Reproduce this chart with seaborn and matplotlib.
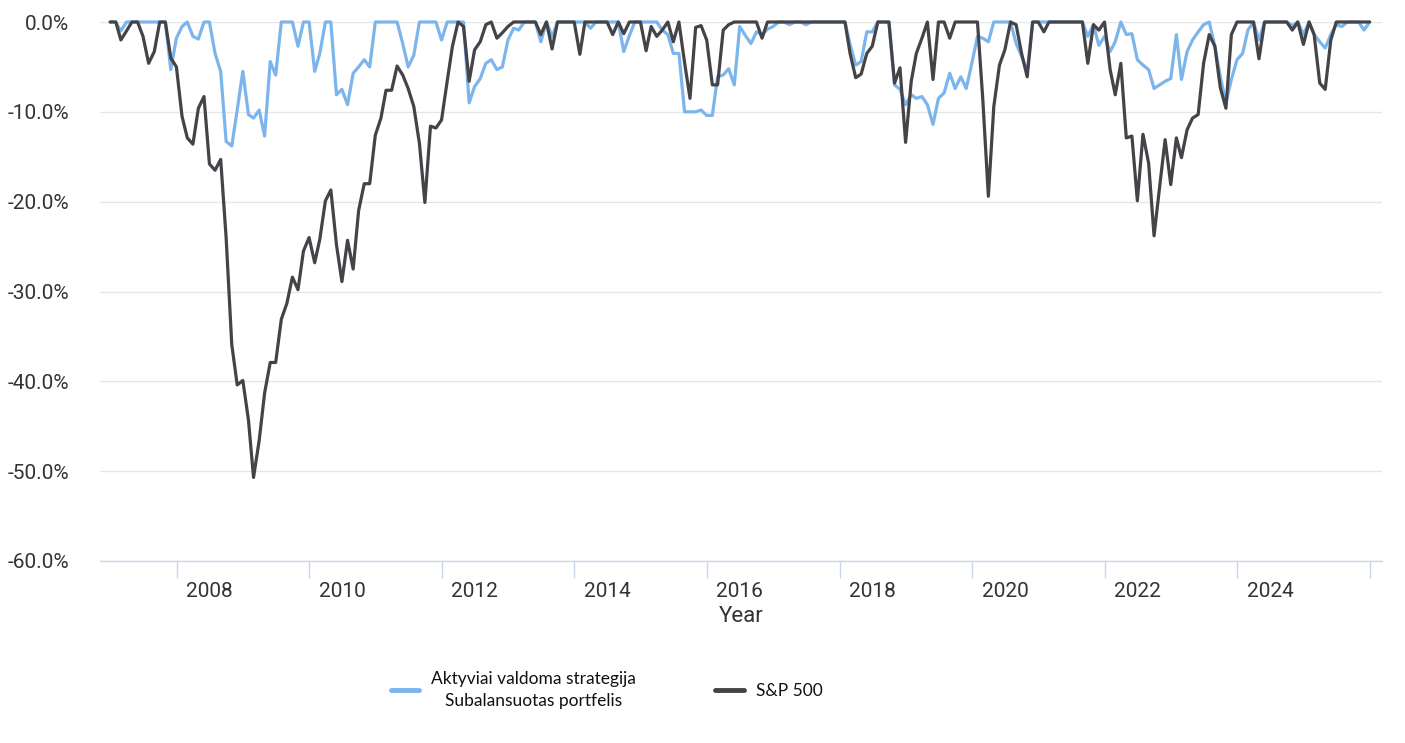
import numpy as np
import pandas as pd
import matplotlib
matplotlib.use("Agg")
import matplotlib.pyplot as plt
import seaborn as sns
import matplotlib.dates as mdates
from matplotlib.lines import Line2D

# ---- data (drawdown, %) monthly, month-end Dec 2006 .. Dec 2025 ----
sp500 = [
    0, 0, -2.0, -1.0, 0, 0, -1.6, -4.6, -3.3, 0,
    0, -4.0, -5.0, -10.5, -12.9, -13.6, -9.6, -8.3, -15.8, -16.5,
    -15.3, -24.0, -35.9, -40.4, -39.9, -44.3, -50.7, -46.6, -41.3, -37.9,
    -37.9, -33.1, -31.3, -28.4, -29.8, -25.5, -24.0, -26.8, -24.2, -19.9,
    -18.7, -24.8, -28.9, -24.3, -27.5, -21.0, -18.0, -18.0, -12.6, -10.7,
    -7.6, -7.6, -4.9, -5.9, -7.4, -9.4, -13.5, -20.1, -11.6, -11.8,
    -10.9, -6.6, -2.7, 0, -0.5, -6.6, -3.1, -2.2, -0.3, 0,
    -1.8, -1.2, -0.5, 0, 0, 0, 0, 0, -1.4, 0,
    -3.0, 0, 0, 0, 0, -3.6, 0, 0, 0, 0,
    0, -1.4, 0, -1.3, 0, 0, 0, -3.2, -0.5, -1.6,
    -0.9, 0, -2.2, 0, -4.5, -8.5, -0.6, -0.4, -2.0, -7.0,
    -7.0, -0.9, -0.3, 0, 0, 0, 0, 0, -1.8, 0,
    0, 0, 0, 0, 0, 0, 0, 0, 0, 0,
    0, 0, 0, 0, -3.5, -6.2, -5.8, -3.5, -2.7, 0,
    0, 0, -6.8, -5.1, -13.4, -6.6, -3.5, -1.8, 0, -6.4,
    0, 0, -1.8, 0, 0, 0, 0, 0, -8.5, -19.4,
    -9.4, -4.8, -3.1, 0, -0.3, -3.5, -6.1, 0, 0, -1.1,
    0, 0, 0, 0, 0, 0, 0, -4.6, -0.3, -0.9,
    0, -5.3, -8.1, -4.6, -12.9, -12.7, -19.9, -12.5, -15.7, -23.8,
    -18.3, -13.1, -18.1, -12.9, -15.1, -12.0, -10.7, -10.3, -4.6, -1.4,
    -2.7, -7.3, -9.6, -1.4, 0, 0, 0, 0, -4.1, 0,
    0, 0, 0, 0, -0.9, 0, -2.5, 0, -1.4, -6.8,
    -7.5, -2.0, 0, 0, 0, 0, 0, 0, 0,
]

strategy = [
    0, 0, -1.0, 0, 0, 0, 0, 0, 0, 0,
    0, -5.3, -1.8, -0.5, 0, -1.6, -1.9, 0, 0, -3.5,
    -5.5, -13.3, -13.8, -9.8, -5.5, -10.3, -10.7, -9.8, -12.7, -4.4,
    -5.9, 0, 0, 0, -2.7, 0, 0, -5.5, -3.5, 0,
    0, -8.1, -7.5, -9.2, -5.7, -5.0, -4.2, -5.0, 0, 0,
    0, 0, 0, -2.4, -5.0, -3.7, 0, 0, 0, 0,
    -2.0, 0, 0, 0, 0, -9.0, -7.2, -6.3, -4.6, -4.2,
    -5.3, -5.0, -2.0, -0.7, -0.9, 0, 0, 0, -2.2, 0,
    -1.6, 0, 0, 0, 0, 0, 0, -0.7, 0, 0,
    0, 0, 0, -3.3, -1.5, 0, 0, 0, 0, 0,
    -0.9, -1.4, -3.5, -3.5, -10.0, -10.0, -10.0, -9.8, -10.4, -10.4,
    -6.1, -5.9, -5.2, -7.0, -0.5, -1.5, -2.4, -1.1, -1.4, -0.8,
    -0.5, 0, 0, -0.3, 0, 0, -0.3, 0, 0, 0,
    0, 0, 0, 0, -2.5, -4.8, -4.4, -1.1, -1.1, 0,
    0, 0, -7.0, -7.5, -9.2, -8.1, -8.5, -8.3, -9.2, -11.4,
    -8.5, -7.9, -5.7, -7.4, -6.1, -7.4, -4.6, -1.6, -1.8, -2.2,
    0, 0, 0, 0, -2.4, -3.8, -5.5, 0, 0, 0,
    0, 0, 0, 0, 0, 0, 0, -1.6, -0.3, -2.6,
    -1.6, -3.3, -2.2, 0, -1.4, -1.3, -4.2, -4.8, -5.3, -7.4,
    -7.0, -6.6, -6.3, -1.4, -6.4, -3.3, -2.0, -1.1, -0.3, 0,
    -2.7, -6.1, -9.0, -6.4, -4.2, -3.5, -0.9, 0, -2.0, 0,
    0, 0, 0, 0, -0.4, 0, -1.4, 0, -1.4, -2.2,
    -2.9, -1.4, -0.3, -0.5, 0, 0, 0, -0.9, 0,
]

dates = pd.date_range("2007-01-01", periods=len(sp500), freq="MS") - pd.Timedelta(days=1)

series_names = ["Aktyviai valdoma strategija\nSubalansuotas portfelis", "S&P 500"]
series_colors = ["#7cb5ec", "#434348"]
tick_years = list(range(2008, 2027, 2))
label_years = list(range(2008, 2025, 2))
y_ticks = [0, -10, -20, -30, -40, -50, -60]

df = pd.DataFrame({"date": dates, "strategy": strategy, "sp500": sp500})

# ---- style ----
sns.set_style("white")
plt.rcParams["font.family"] = ["Roboto", "DejaVu Sans"]

W, H = 1405, 743
fig = plt.figure(figsize=(W / 100, H / 100), dpi=100)
ax = fig.add_axes([100 / W, 1 - 561 / H, 1282 / W, 539 / H])

sns.lineplot(data=df, x="date", y="strategy", color=series_colors[0], lw=2.3,
             ax=ax, clip_on=False, zorder=3)
sns.lineplot(data=df, x="date", y="sp500", color=series_colors[1], lw=2.3,
             ax=ax, clip_on=False, zorder=4)

ax.set_ylim(-60, 0)
ax.set_xlim(mdates.date2num(pd.Timestamp("2006-11-05")),
            mdates.date2num(pd.Timestamp("2026-03-09")))

# y axis
ax.set_yticks(y_ticks)
ax.set_yticklabels([f"{v:.1f}%" for v in y_ticks])
ax.tick_params(axis="y", left=False, length=0, pad=22, labelsize=15,
               labelcolor="#333333")
ax.yaxis.grid(True, color="#e6e6e6", lw=1)
ax.set_axisbelow(True)
ax.set_ylabel("")

# x axis: major ticks at Jan 1 (marks), minor at mid-year (labels)
ax.set_xticks([mdates.date2num(pd.Timestamp(f"{y}-01-01")) for y in tick_years],
              labels=[""] * len(tick_years))
ax.set_xticks([mdates.date2num(pd.Timestamp(f"{y}-07-01")) for y in label_years],
              labels=[str(y) for y in label_years], minor=True)
ax.tick_params(axis="x", which="major", bottom=True, length=12.5, width=1,
               color="#ccd6eb", direction="out")
ax.tick_params(axis="x", which="minor", bottom=True, length=0, pad=15,
               labelsize=15, labelcolor="#333333")
ax.xaxis.grid(False)
ax.set_xlabel("Year", fontsize=16, color="#333333", labelpad=4)

for s in ["top", "right", "left"]:
    ax.spines[s].set_visible(False)
ax.spines["bottom"].set_color("#ccd6eb")
ax.spines["bottom"].set_linewidth(1)

# legend
handles = [Line2D([], [], color=c, lw=3.5) for c in series_colors]
leg = fig.legend(handles, series_names, loc="center left",
                 bbox_to_anchor=(375 / W, 1 - 690 / H), ncol=2, frameon=False,
                 handlelength=1.65, handletextpad=0.7, columnspacing=4.55,
                 prop={"family": ["Lato", "DejaVu Sans"], "size": 12.5})
for t in leg.get_texts():
    t.set_multialignment("center")
    t.set_linespacing(1.45)
    t.set_color("#111111")

fig.savefig("out.png", dpi=100)
